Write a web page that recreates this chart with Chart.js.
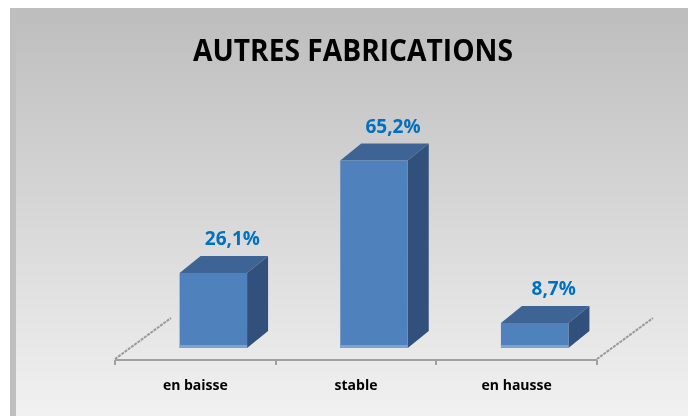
<!DOCTYPE html>
<html>
<head>
<meta charset="utf-8">
<script src="https://cdn.jsdelivr.net/npm/chart.js@4"></script>
<style>
  html, body { margin: 0; padding: 0; background: #fff; }
  #wrap { width: 688px; height: 416px; position: relative; }
</style>
</head>
<body>
<div id="wrap"><canvas id="chart"></canvas></div>
<script>
/* --- data --- */
const CATEGORIES = ['en baisse', 'stable', 'en hausse'];
const VALUES = [26.1, 65.2, 8.7];
const TITLE = 'AUTRES FABRICATIONS';

/* --- look --- */
const COLORS = {
  front: '#4f81bd',
  frontEdge: '#7ea3cf',
  top: '#3d6494',
  side: '#31517c',
  label: '#0070c0',
  axis: '#a0a0a0',
  bgTop: '#bdbdbd',
  bgBottom: '#f1f1f1'
};
const DEPTH_X = 21;     // 3D depth offset of the bar boxes
const DEPTH_Y = -17;
const BAR_SHIFT = 18;   // bars sit mid-floor, right of the category centre
const FONT = "'Open Sans', 'DejaVu Sans', sans-serif";

const fmt = v => v.toFixed(1).replace('.', ',') + '%';

// background panel + title
const backdrop = {
  id: 'backdrop',
  beforeDraw(chart) {
    const { ctx, width, height } = chart;
    ctx.save();
    ctx.fillStyle = '#ffffff';
    ctx.fillRect(0, 0, width, height);
    const g = ctx.createLinearGradient(0, 8, 0, height);
    g.addColorStop(0, COLORS.bgTop);
    g.addColorStop(1, COLORS.bgBottom);
    ctx.fillStyle = g;
    ctx.fillRect(10, 8, width - 10, height - 8);
    ctx.fillStyle = '#bfbfbf';
    ctx.fillRect(10, 8, 6, height - 8);

    // title, condensed like the original
    ctx.font = 'bold 30px ' + FONT;
    ctx.fillStyle = '#000';
    ctx.textBaseline = 'alphabetic';
    const w = ctx.measureText(TITLE).width;
    const target = 320;
    ctx.translate(353, 61);
    ctx.scale(target / w, 1);
    ctx.textAlign = 'center';
    ctx.fillText(TITLE, 0, 0);
    ctx.restore();
  }
};

// floor lines and 3D boxes
const bars3d = {
  id: 'bars3d',
  afterDatasetsDraw(chart) {
    const { ctx, chartArea, scales } = chart;
    const xs = scales.x;
    const floorY = chartArea.bottom + 12;
    const step = (xs.right - xs.left) / CATEGORIES.length;

    ctx.save();
    // front floor edge + ticks
    ctx.strokeStyle = COLORS.axis;
    ctx.lineWidth = 2;
    ctx.beginPath();
    ctx.moveTo(xs.left, floorY);
    ctx.lineTo(xs.right, floorY);
    for (let i = 0; i <= CATEGORIES.length; i++) {
      const x = Math.round(xs.left + i * step);
      ctx.moveTo(x, floorY);
      ctx.lineTo(x, floorY + 5);
    }
    ctx.stroke();
    // side floor edges
    ctx.setLineDash([3, 1]);
    ctx.strokeStyle = '#999';
    ctx.beginPath();
    [xs.left, xs.right].forEach(x => {
      ctx.moveTo(x, floorY - 1);
      ctx.lineTo(x + 56, floorY - 42);
    });
    ctx.stroke();
    ctx.setLineDash([]);

    const meta = chart.getDatasetMeta(0);
    meta.data.forEach((bar, i) => {
      const w = bar.width;
      const x0 = bar.x - w / 2 + BAR_SHIFT;
      const x1 = x0 + w;
      const top = bar.y;
      const bottom = bar.base;

      // side
      ctx.fillStyle = COLORS.side;
      ctx.beginPath();
      ctx.moveTo(x1, top);
      ctx.lineTo(x1 + DEPTH_X, top + DEPTH_Y);
      ctx.lineTo(x1 + DEPTH_X, bottom + DEPTH_Y);
      ctx.lineTo(x1, bottom);
      ctx.closePath();
      ctx.fill();
      // top
      ctx.fillStyle = COLORS.top;
      ctx.beginPath();
      ctx.moveTo(x0, top);
      ctx.lineTo(x0 + DEPTH_X, top + DEPTH_Y);
      ctx.lineTo(x1 + DEPTH_X, top + DEPTH_Y);
      ctx.lineTo(x1, top);
      ctx.closePath();
      ctx.fill();
      // front
      ctx.fillStyle = COLORS.front;
      ctx.fillRect(x0, top, w, bottom - top);
      ctx.fillStyle = COLORS.frontEdge;
      ctx.fillRect(x0, bottom - 3, w, 3);

      // value label
      ctx.font = 'bold 19px ' + FONT;
      ctx.fillStyle = COLORS.label;
      ctx.textAlign = 'center';
      ctx.textBaseline = 'middle';
      ctx.fillText(fmt(VALUES[i]), x0 + w / 2 + DEPTH_X - 2, top + DEPTH_Y - 16);
    });
    ctx.restore();
  }
};

new Chart(document.getElementById('chart'), {
  type: 'bar',
  data: {
    labels: CATEGORIES,
    datasets: [{
      data: VALUES,
      backgroundColor: 'rgba(0,0,0,0)',
      borderWidth: 0,
      categoryPercentage: 1,
      barPercentage: 0.42
    }]
  },
  options: {
    responsive: true,
    maintainAspectRatio: false,
    animation: false,
    layout: { padding: { left: 115, right: 91, top: 118, bottom: 21 } },
    plugins: {
      legend: { display: false },
      tooltip: { enabled: false }
    },
    scales: {
      x: {
        grid: { display: false, drawTicks: false },
        border: { display: false },
        ticks: {
          color: '#000',
          padding: 30,
          font: { family: FONT, size: 14, weight: 'bold' }
        },
        afterFit(scale) { scale.height = 47; }
      },
      y: {
        display: false,
        min: 0,
        max: 80
      }
    }
  },
  plugins: [backdrop, bars3d]
});
</script>
</body>
</html>
